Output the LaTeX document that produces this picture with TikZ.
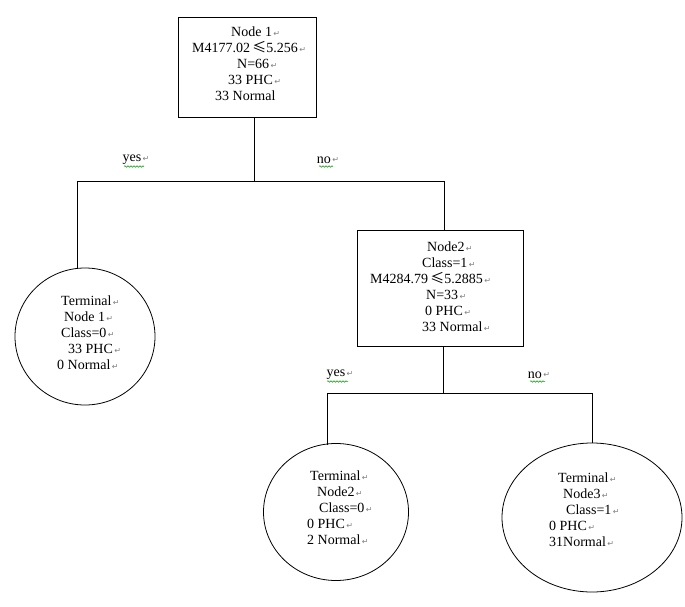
\documentclass[tikz,border=0pt]{standalone}
\usepackage{fontspec}
\setmainfont{Liberation Serif}
\newfontfamily\symfont{DejaVu Sans}
\newfontfamily\cjkfont{Noto Sans CJK SC}
\usetikzlibrary{shapes.geometric,decorations.pathmorphing}
\newcommand{\rt}{{\symfont\fontsize{8}{8}\selectfont\color{gray}\,\raisebox{0.5pt}{↵}}}
\newcommand{\leqs}{\,{\cjkfont ≤}}
\tikzset{
  box/.style={draw, rectangle, line width=0.8pt},
  oval/.style={draw, ellipse, line width=0.8pt},
  txt/.style={anchor=north west, align=left, inner sep=0pt, font=\fontsize{14}{16}\selectfont},
  conn/.style={line width=0.8pt},
  lbl/.style={inner sep=0pt, font=\fontsize{14}{16}\selectfont},
  squig/.style={draw=green!60!black, line width=0.5pt, decorate, decoration={snake, amplitude=0.8pt, segment length=3pt}}
}
\begin{document}
\begin{tikzpicture}[x=1pt,y=-1pt]
\useasboundingbox (0,0) rectangle (685,607);
% shapes
\node[box, minimum width=138pt, minimum height=100pt] (root) at (247,67) {};
\node[box, minimum width=166pt, minimum height=116pt] (n2) at (440,288) {};
\node[oval, minimum width=140pt, minimum height=137pt] (t1) at (85,336.5) {};
\node[oval, minimum width=145pt, minimum height=137pt] (t2) at (336,512) {};
\node[oval, minimum width=180pt, minimum height=149pt] (t3) at (592,517.5) {};
% texts
\node[txt] (rootx) at (192,27) {\hspace*{39pt}Node 1\rt\\
M4177.02\leqs5.256\rt\\
\hspace*{45pt}N=66\rt\\
\hspace*{36pt}33 PHC\rt\\
\hspace*{23pt}33 Normal};
\node[txt] (n2x) at (370,242) {\hspace*{57pt}Node2\rt\\
\hspace*{52pt}Class=1\rt\\
M4284.79\leqs5.2885\rt\\
\hspace*{56pt}N=33\rt\\
\hspace*{55pt}0 PHC\rt\\
\hspace*{52pt}33 Normal\rt};
\node[txt] (t1x) at (57,296) {\hspace*{4pt}Terminal\rt\\
\hspace*{7pt}Node 1\rt\\
\hspace*{4pt}Class=0\rt\\
\hspace*{11pt}33 PHC\rt\\
0 Normal\rt};
\node[txt] (t2x) at (307,471) {\hspace*{3pt}Terminal\rt\\
\hspace*{10pt}Node2\rt\\
\hspace*{12pt}Class=0\rt\\
0 PHC\rt\\
2 Normal\rt};
\node[txt] (t3x) at (549,473) {\hspace*{9pt}Terminal\rt\\
\hspace*{14pt}Node3\rt\\
\hspace*{17pt}Class=1\rt\\
0 PHC\rt\\
31Normal\rt};
% junctions
\coordinate (j1) at (254,181);
\coordinate (j1l) at (77,181);
\coordinate (j1r) at (444,181);
\coordinate (j2) at (443,393);
\coordinate (j2l) at (327,393);
\coordinate (j2r) at (592,393);
\draw[conn] (root.south -| j1) -- (j1);
\draw[conn] (j1l) -- (j1r);
\draw[conn] (j1l) -- (j1l |- t1.north);
\draw[conn] (j1r) -- (j1r |- n2.north);
\draw[conn] (n2.south -| j2) -- (j2);
\draw[conn] (j2l) -- (j2r);
\draw[conn] (j2l) -- (327,445);
\draw[conn] (j2r) -- (t3.north);
% labels
\node[lbl] (yes1) at (136,160) {yes\rt};
\node[lbl] (no1) at (328,160) {no\rt};
\node[lbl] (yes2) at (340,375) {yes\rt};
\node[lbl] (no2) at (539,375) {no\rt};
\path[squig] (124,166.5) -- (144,166.5);
\path[squig] (319,166.5) -- (333,166.5);
\path[squig] (327,381.5) -- (348,381.5);
\path[squig] (530,381.5) -- (545,381.5);
\end{tikzpicture}
\end{document}
